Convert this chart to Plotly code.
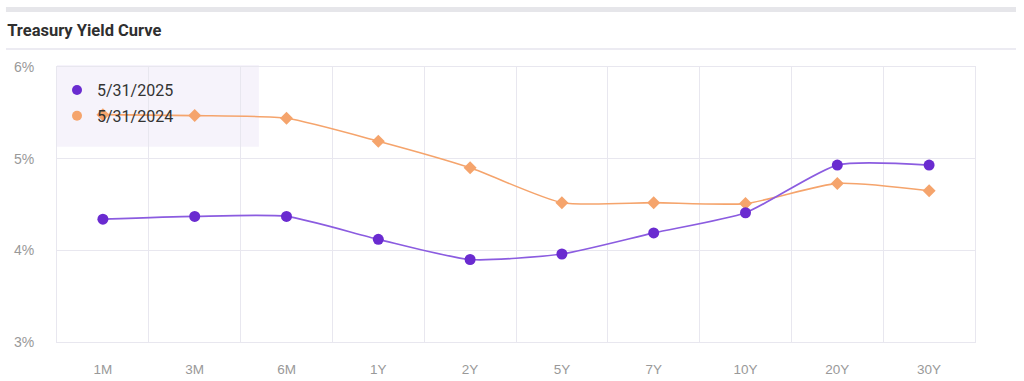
import plotly.graph_objects as go

tenors = ["1M", "3M", "6M", "1Y", "2Y", "5Y", "7Y", "10Y", "20Y", "30Y"]
yield_2025 = [4.34, 4.37, 4.37, 4.12, 3.90, 3.96, 4.19, 4.41, 4.93, 4.93]
yield_2024 = [5.48, 5.47, 5.44, 5.19, 4.90, 4.52, 4.52, 4.51, 4.73, 4.65]
y_ticks = [3, 4, 5, 6]
y_tick_text = ["3%", "4%", "5%", "6%"]
label_2025 = "5/31/2025"
label_2024 = "5/31/2024"

PURPLE = "#6a2bd0"
PURPLE_LINE = "#8b5ce0"
ORANGE = "#f5a46c"
GRID = "#e8e7ef"
TICK_FONT = "Liberation Sans, Arial, sans-serif"

fig = go.Figure()

fig.add_trace(go.Scatter(
    x=tenors, y=yield_2024, mode="lines+markers", name=label_2024,
    line=dict(color=ORANGE, width=1.6, shape="spline", smoothing=0.6),
    marker=dict(symbol="diamond", size=10, color=ORANGE),
    showlegend=False,
))
fig.add_trace(go.Scatter(
    x=tenors, y=yield_2025, mode="lines+markers", name=label_2025,
    line=dict(color=PURPLE_LINE, width=1.7, shape="spline", smoothing=0.6),
    marker=dict(symbol="circle", size=11, color=PURPLE),
    showlegend=False,
))
# legend-only entries (marker only)
fig.add_trace(go.Scatter(
    x=[None], y=[None], mode="markers", name=label_2025, legendgroup="a",
    marker=dict(symbol="circle", size=10, color=PURPLE),
))
fig.add_trace(go.Scatter(
    x=[None], y=[None], mode="markers", name=label_2024, legendgroup="b",
    marker=dict(symbol="circle", size=10, color=ORANGE),
))

shapes = [
    # top gray bar
    dict(type="rect", xref="paper", yref="paper",
         x0=-0.0556, x1=1.0447, y0=1.2, y1=1.218,
         fillcolor="#e6e6ea", line=dict(width=0), layer="below"),
    # separator under title
    dict(type="line", xref="paper", yref="paper",
         x0=-0.0556, x1=1.0447, y0=1.0655, y1=1.0655,
         line=dict(color="#e6e5ee", width=1.5)),
    # legend background box
    dict(type="rect", xref="paper", yref="paper",
         x0=0, x1=0.220, y0=0.71, y1=1.007,
         fillcolor="rgba(238,234,248,0.55)", line=dict(width=0), layer="between"),
]

fig.update_layout(
    width=1024, height=381,
    margin=dict(l=57, r=49, t=67, b=39, autoexpand=False),
    paper_bgcolor="white", plot_bgcolor="white",
    font=dict(family="Roboto, Arial, sans-serif", color="#999999", size=13),
    title=dict(text="<b>Treasury Yield Curve</b>", x=0.007, xanchor="left",
               y=0.921, yanchor="middle",
               font=dict(family="Roboto, Arial, sans-serif", size=16.5, color="#2f2f2f")),
    shapes=shapes,
    showlegend=True,
    legend=dict(x=0.0, y=0.978, xanchor="left", yanchor="top",
                bgcolor="rgba(0,0,0,0)", borderwidth=0,
                font=dict(family="Roboto, Arial, sans-serif", size=16, color="#333333"),
                tracegroupgap=2, itemwidth=30),
    xaxis=dict(
        type="category", categoryorder="array", categoryarray=tenors,
        range=[-0.5, len(tenors) - 0.5], automargin=False,
        tickson="boundaries", showgrid=True, gridcolor=GRID, gridwidth=1,
        ticks="", ticklabelstandoff=15,
        showline=True, mirror=True, linecolor=GRID, linewidth=1,
        zeroline=False, fixedrange=True,
        tickfont=dict(family=TICK_FONT, size=13.5, color="#999999"),
    ),
    yaxis=dict(
        range=[3, 6], tickmode="array", tickvals=y_ticks, ticktext=y_tick_text,
        automargin=False,
        showgrid=True, gridcolor=GRID, gridwidth=1,
        ticks="", ticklabelstandoff=19,
        showline=True, mirror=True, linecolor=GRID, linewidth=1,
        zeroline=False, fixedrange=True,
        tickfont=dict(family=TICK_FONT, size=14, color="#999999"),
    ),
)

fig.write_html("out.html", config={"displayModeBar": False},
               post_script="document.body.style.margin='0';")
